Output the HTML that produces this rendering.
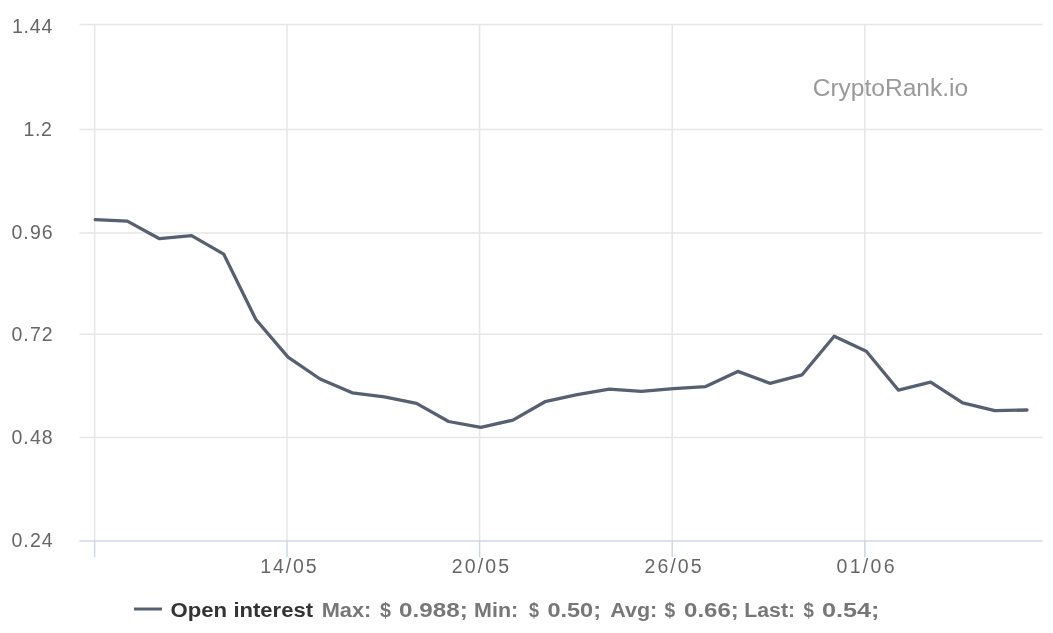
<!DOCTYPE html>
<html><head><meta charset="utf-8"><style>
html,body{margin:0;padding:0;background:#fff;width:1053px;height:633px;overflow:hidden}
svg{display:block;will-change:transform;font-family:"Liberation Sans",sans-serif}
</style></head><body>
<svg width="1053" height="633" viewBox="0 0 1053 633">
<rect width="1053" height="633" fill="#fff"/>
<g stroke="#e6e6e6" stroke-width="1.5" fill="none">
<line x1="79.5" y1="24.5" x2="1042.5" y2="24.5"/>
<line x1="79.5" y1="129.5" x2="1042.5" y2="129.5"/>
<line x1="79.5" y1="232.9" x2="1042.5" y2="232.9"/>
<line x1="79.5" y1="334.3" x2="1042.5" y2="334.3"/>
<line x1="79.5" y1="437.6" x2="1042.5" y2="437.6"/>
<line x1="94.6" y1="24.75" x2="94.6" y2="540"/>
<line x1="287.0" y1="24.75" x2="287.0" y2="540"/>
<line x1="479.6" y1="24.75" x2="479.6" y2="540"/>
<line x1="672.2" y1="24.75" x2="672.2" y2="540"/>
<line x1="864.8" y1="24.75" x2="864.8" y2="540"/>
</g>
<g stroke="#ccd6eb" stroke-width="1.5" fill="none">
<line x1="79.5" y1="541" x2="1042.5" y2="541"/>
<line x1="94.6" y1="540" x2="94.6" y2="557.3"/>
<line x1="287.0" y1="540" x2="287.0" y2="557.3"/>
<line x1="479.6" y1="540" x2="479.6" y2="557.3"/>
<line x1="672.2" y1="540" x2="672.2" y2="557.3"/>
<line x1="864.8" y1="540" x2="864.8" y2="557.3"/>
</g>
<polyline points="95.2,219.6 127.3,221.1 159.5,238.7 191.6,235.6 223.7,254.1 255.9,319.5 288.0,357.1 320.1,379.0 352.2,392.8 384.4,396.8 416.5,403.4 448.6,421.5 480.8,427.4 512.9,420.1 545.0,401.7 577.2,394.6 609.3,389.1 641.4,391.3 673.5,388.6 705.7,386.6 737.8,371.4 769.9,383.3 802.1,374.8 834.2,336.3 866.3,351.3 898.5,390.2 930.6,382.1 962.7,402.9 994.8,410.7 1027.0,410.0" fill="none" stroke="#566070" stroke-width="3.3" stroke-linejoin="round" stroke-linecap="round"/>
<line x1="134" y1="609" x2="162" y2="609" stroke="#566070" stroke-width="3"/>
<text x="812.70" y="96.00" font-size="23" fill="#999" textLength="155.50" lengthAdjust="spacingAndGlyphs">CryptoRank.io</text>
<text x="11.90" y="33.00" font-size="19.5" fill="#666" textLength="40.50" lengthAdjust="spacing">1.44</text>
<text x="23.60" y="136.00" font-size="19.5" fill="#666" textLength="28.30" lengthAdjust="spacing">1.2</text>
<text x="11.40" y="239.00" font-size="19.5" fill="#666" textLength="41.30" lengthAdjust="spacing">0.96</text>
<text x="11.40" y="341.00" font-size="19.5" fill="#666" textLength="41.30" lengthAdjust="spacing">0.72</text>
<text x="11.40" y="444.00" font-size="19.5" fill="#666" textLength="41.30" lengthAdjust="spacing">0.48</text>
<text x="11.40" y="547.00" font-size="19.5" fill="#666" textLength="41.30" lengthAdjust="spacing">0.24</text>
<text x="260.20" y="573.00" font-size="19.5" fill="#666" textLength="56.30" lengthAdjust="spacing">14/05</text>
<text x="451.80" y="573.00" font-size="19.5" fill="#666" textLength="57.20" lengthAdjust="spacing">20/05</text>
<text x="644.60" y="573.00" font-size="19.5" fill="#666" textLength="56.90" lengthAdjust="spacing">26/05</text>
<text x="836.50" y="573.00" font-size="19.5" fill="#666" textLength="58.10" lengthAdjust="spacing">01/06</text>
<text x="170.50" y="616.60" font-size="19.5" fill="#333" font-weight="bold" textLength="56.60" lengthAdjust="spacingAndGlyphs">Open</text>
<text x="233.40" y="616.60" font-size="19.5" fill="#333" font-weight="bold" textLength="79.60" lengthAdjust="spacingAndGlyphs">interest</text>
<text x="321.70" y="616.60" font-size="19.5" fill="#777" font-weight="bold" textLength="49.70" lengthAdjust="spacingAndGlyphs">Max:</text>
<text x="379.90" y="616.60" font-size="19.5" fill="#777" font-weight="bold" textLength="11.00" lengthAdjust="spacingAndGlyphs">$</text>
<text x="399.10" y="616.60" font-size="19.5" fill="#777" font-weight="bold" textLength="68.60" lengthAdjust="spacingAndGlyphs">0.988;</text>
<text x="474.10" y="616.60" font-size="19.5" fill="#777" font-weight="bold" textLength="44.10" lengthAdjust="spacingAndGlyphs">Min:</text>
<text x="529.00" y="616.60" font-size="19.5" fill="#777" font-weight="bold" textLength="10.00" lengthAdjust="spacingAndGlyphs">$</text>
<text x="547.40" y="616.60" font-size="19.5" fill="#777" font-weight="bold" textLength="53.60" lengthAdjust="spacingAndGlyphs">0.50;</text>
<text x="610.20" y="616.60" font-size="19.5" fill="#777" font-weight="bold" textLength="47.00" lengthAdjust="spacingAndGlyphs">Avg:</text>
<text x="664.40" y="616.60" font-size="19.5" fill="#777" font-weight="bold" textLength="10.70" lengthAdjust="spacingAndGlyphs">$</text>
<text x="684.10" y="616.60" font-size="19.5" fill="#777" font-weight="bold" textLength="54.60" lengthAdjust="spacingAndGlyphs">0.66;</text>
<text x="744.30" y="616.60" font-size="19.5" fill="#777" font-weight="bold" textLength="50.80" lengthAdjust="spacingAndGlyphs">Last:</text>
<text x="803.40" y="616.60" font-size="19.5" fill="#777" font-weight="bold" textLength="10.40" lengthAdjust="spacingAndGlyphs">$</text>
<text x="822.00" y="616.60" font-size="19.5" fill="#777" font-weight="bold" textLength="57.50" lengthAdjust="spacingAndGlyphs">0.54;</text>
</svg>
</body></html>
